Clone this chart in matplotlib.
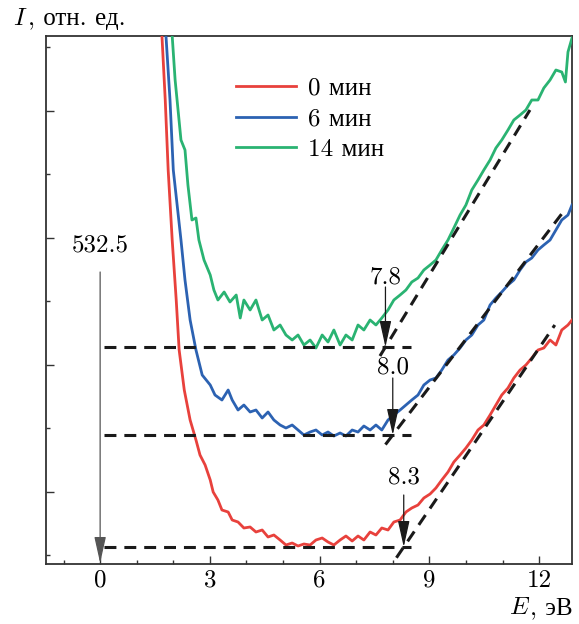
import matplotlib
matplotlib.use("Agg")
import matplotlib.pyplot as plt
from matplotlib.ticker import FixedLocator, NullFormatter

plt.rcParams['font.family'] = ['cmr10', 'Liberation Serif']
plt.rcParams['mathtext.fontset'] = 'cm'
plt.rcParams['axes.unicode_minus'] = False
plt.rcParams['axes.formatter.use_mathtext'] = True

# Photon energy E (eV) and intensity (rel. units) for each exposure time
e_0 = [1.62, 1.69, 1.78, 1.86, 1.97, 2.08, 2.16, 2.30, 2.46, 2.62, 2.73, 2.87, 3.01, 3.09,
       3.22, 3.33, 3.50, 3.61, 3.77, 3.93, 4.10, 4.26, 4.43, 4.59, 4.75, 4.92, 5.08, 5.25,
       5.41, 5.57, 5.74, 5.90, 6.07, 6.23, 6.39, 6.56, 6.72, 6.89, 7.05, 7.21, 7.38, 7.54,
       7.70, 7.87, 8.03, 8.20, 8.36, 8.52, 8.69, 8.85, 9.02, 9.18, 9.34, 9.51, 9.67, 9.84,
       10.00, 10.16, 10.33, 10.49, 10.66, 10.82, 10.98, 11.15, 11.31, 11.48, 11.64, 11.80,
       11.97, 12.13, 12.30, 12.46, 12.62, 12.79, 12.90]
i_0 = [600, 519, 455, 385, 315, 255, 205, 165, 135, 115, 100, 90, 75, 63,
       55, 45, 43, 35, 33, 27, 28, 23, 25, 18, 20, 15, 10, 12,
       9, 11, 10, 15, 17, 13, 10, 15, 19, 14, 19, 15, 23, 20,
       27, 25, 33, 35, 43, 47, 50, 57, 61, 67, 75, 83, 93, 100,
       107, 115, 125, 130, 140, 150, 160, 167, 177, 185, 190, 197,
       205, 207, 215, 210, 225, 230, 235]

e_6 = [1.75, 1.80, 1.91, 2.00, 2.21, 2.32, 2.46, 2.62, 2.79, 3.01, 3.14, 3.33, 3.50, 3.61,
       3.77, 3.93, 4.10, 4.26, 4.43, 4.59, 4.75, 4.92, 5.08, 5.25, 5.41, 5.57, 5.74, 5.90,
       6.07, 6.23, 6.39, 6.56, 6.72, 6.89, 7.05, 7.21, 7.38, 7.54, 7.70, 7.87, 8.03, 8.20,
       8.36, 8.52, 8.69, 8.85, 9.02, 9.18, 9.34, 9.51, 9.67, 9.84, 10.00, 10.16, 10.33,
       10.49, 10.66, 10.82, 10.98, 11.15, 11.31, 11.48, 11.64, 11.80, 11.97, 12.13, 12.30,
       12.46, 12.62, 12.79, 12.90]
i_6 = [600, 519, 455, 385, 315, 275, 235, 205, 180, 170, 160, 155, 165, 155,
       145, 150, 143, 145, 137, 143, 135, 130, 127, 130, 125, 120, 123, 125,
       120, 123, 119, 122, 119, 125, 123, 129, 125, 130, 125, 135, 140, 145,
       150, 155, 160, 170, 175, 177, 185, 195, 200, 207, 215, 220, 230,
       235, 250, 257, 263, 270, 275, 285, 293, 297, 305, 310, 315,
       325, 335, 340, 350]

e_14 = [1.88, 1.97, 2.05, 2.13, 2.21, 2.32, 2.40, 2.51, 2.62, 2.70, 2.84, 3.01, 3.11, 3.22,
        3.39, 3.55, 3.72, 3.83, 3.93, 4.10, 4.26, 4.43, 4.59, 4.75, 4.92, 5.08, 5.25, 5.41,
        5.57, 5.74, 5.90, 6.07, 6.23, 6.39, 6.56, 6.72, 6.89, 7.05, 7.21, 7.38, 7.54, 7.70,
        7.87, 8.03, 8.20, 8.36, 8.52, 8.69, 8.85, 9.02, 9.18, 9.34, 9.51, 9.67, 9.84, 10.00,
        10.16, 10.33, 10.49, 10.66, 10.82, 10.98, 11.15, 11.31, 11.48, 11.64, 11.80, 11.97,
        12.13, 12.30, 12.46, 12.62, 12.72, 12.79, 12.90]
i_14 = [600, 519, 475, 445, 415, 405, 370, 335, 337, 315, 295, 280, 265, 255,
        263, 253, 260, 237, 255, 245, 255, 235, 240, 225, 230, 220, 215, 220,
        210, 215, 207, 220, 213, 225, 210, 220, 215, 230, 225, 235, 230, 237,
        245, 255, 260, 265, 273, 277, 285, 290, 295, 305, 315, 327, 340, 350,
        365, 375, 385, 395, 407, 415, 425, 435, 440, 445, 455, 455,
        467, 475, 485, 483, 473, 503, 517]

labels = ['0 мин', '6 мин', '14 мин']
colors = ['#e8413c', '#2c62b2', '#2ab372']

# Band-gap construction: onset energies, baseline levels, tangent end points
onset = [8.3, 8.0, 7.8]
onset_text = ['8.3', '8.0', '7.8']
baseline = [8, 120, 208]
tangent_start = [8.1, 7.8, 7.65]
tangent_end_e = [12.43, 12.70, 11.75]
tangent_end_i = [230, 345, 445]
baseline_from = 0.1
baseline_to = 8.5

ref_energy = 0.0
ref_text = '532.5'

x_ticks = [0, 3, 6, 9, 12]
x_minor = [-1, 1, 2, 4, 5, 7, 8, 10, 11]
y_major = [63.5, 190.5, 317.5, 444.5]
y_minor = [0, 127, 254, 381, 508]

FS = 18

fig = plt.figure(figsize=(5.79, 6.24), dpi=100)
ax = fig.add_axes([46 / 579, 1 - 564 / 624, 526 / 579, 528 / 624])

for e, i, lab, c in zip([e_0, e_6, e_14], [i_0, i_6, i_14], labels, colors):
    ax.plot(e, i, color=c, lw=2.0, label=lab, solid_joinstyle='round', zorder=3)

dash = (0, (3.9, 2.6))
for k in range(3):
    ax.plot([baseline_from, baseline_to], [baseline[k], baseline[k]], color='#1a1a1a',
            lw=2.2, linestyle=dash, zorder=4)
    slope = (tangent_end_i[k] - baseline[k]) / (tangent_end_e[k] - onset[k])
    y0 = baseline[k] + slope * (tangent_start[k] - onset[k])
    ax.plot([tangent_start[k], tangent_end_e[k]], [y0, tangent_end_i[k]], color='#1a1a1a',
            lw=2.2, linestyle=dash, zorder=4)

arrow_props = dict(arrowstyle='-|>,head_length=0.9,head_width=0.2', color='#1a1a1a',
                   lw=0.9, mutation_scale=18, shrinkA=0, shrinkB=0)

# Onset arrows with labels
text_offset = [70, 68, 70]
arrow_top = [52, 57, 60]
for k in range(3):
    ax.annotate('', xy=(onset[k], baseline[k]), xytext=(onset[k], baseline[k] + arrow_top[k]),
                arrowprops=arrow_props, zorder=5)
    ax.text(onset[k], baseline[k] + text_offset[k], onset_text[k], ha='center', va='center',
            fontsize=FS, zorder=5)

# Reference energy marker
ax.annotate('', xy=(ref_energy, -8), xytext=(ref_energy, 283),
            arrowprops=dict(arrow_props, color='#555555'), zorder=5)
ax.text(ref_energy, 310, ref_text, ha='center', va='center', fontsize=FS)

ax.set_xlim(-1.48, 12.9)
ax.set_ylim(-9, 519)

ax.xaxis.set_major_locator(FixedLocator(x_ticks))
ax.xaxis.set_minor_locator(FixedLocator(x_minor))
ax.set_xticklabels([str(t) for t in x_ticks])
ax.yaxis.set_major_locator(FixedLocator(y_major))
ax.yaxis.set_minor_locator(FixedLocator(y_minor))
ax.yaxis.set_major_formatter(NullFormatter())

ax.tick_params(axis='both', which='major', direction='in', length=6, width=1.0,
               color='#333333', labelsize=FS, pad=4)
ax.tick_params(axis='both', which='minor', direction='in', length=3, width=1.0,
               color='#333333')
ax.tick_params(axis='x', which='both', top=False)
ax.tick_params(axis='y', which='both', right=False)
for s in ax.spines.values():
    s.set_linewidth(1.3)
    s.set_color('#333333')

leg = ax.legend(loc='upper left', bbox_to_anchor=(0.362, 0.922), frameon=False,
                fontsize=FS, handlelength=2.4, handletextpad=0.45, labelspacing=0.33,
                borderpad=0, borderaxespad=0)

# Axis captions: italic symbol in math font, words in a serif font with Cyrillic
renderer = fig.canvas.get_renderer()


def caption(x_px, y_px, symbol, words):
    y = 1 - y_px / 624
    t = fig.text(x_px / 579, y, symbol, ha='left', va='baseline', fontsize=FS)
    bb = t.get_window_extent(renderer)
    fig.text(bb.x1 / fig.bbox.width, y, words, ha='left', va='baseline', fontsize=FS)


caption(13, 25, r'$I$', ', отн. ед.')
caption(509, 614, r'$E$', ', эВ')

fig.savefig('out.png', dpi=100)
